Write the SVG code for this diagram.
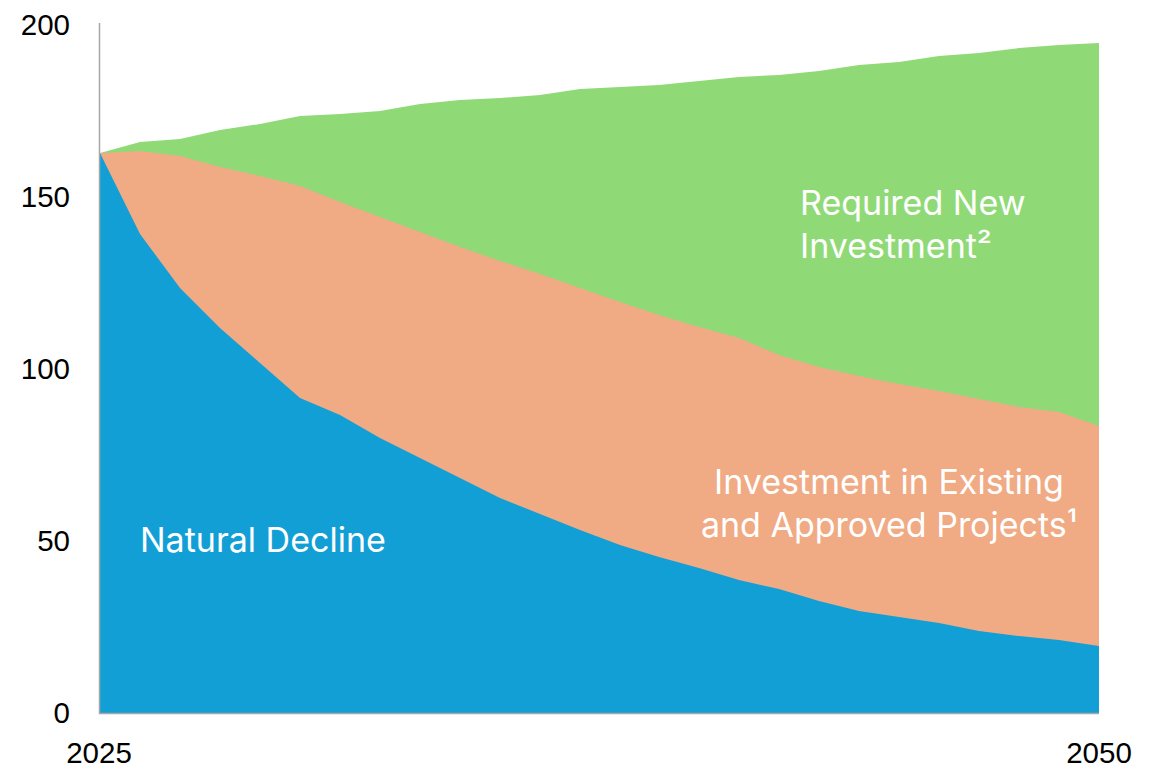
<svg xmlns="http://www.w3.org/2000/svg" width="1162" height="769" viewBox="0 0 1162 769">
<style>
.tick{font-family:"Liberation Sans",Arial,sans-serif;font-size:29.5px;fill:#000}
.lbl{font-family:Inter,"Open Sans",sans-serif;font-size:34px;fill:#fff}
.axis{stroke:#a6a6a6;stroke-width:1.5;fill:none}
</style>
<rect width="1162" height="769" fill="#fff"/>
<g id="areas">
<path id="required-new" fill="#8fda76" d="M100,153 L140,142 L180,139 L220,130 L260,124 L300,116 L340,114 L380,111 L420,104 L460,100 L500,98 L540,95 L580,89 L620,87 L659,85 L699,81 L739,77 L779,75 L819,71 L859,65 L899,62 L939,56 L979,53 L1019,48 L1059,45 L1099,43 L1099,713 L100,713 Z"/>
<path id="existing" fill="#f0aa84" d="M100,153 L140,151 L180,156 L220,167 L260,176 L300,186 L340,202 L380,217 L420,232 L460,247 L500,261 L540,274 L580,288 L620,302 L659,315 L699,327 L739,338 L779,355 L819,367 L859,376 L899,384 L939,391 L979,399 L1019,407 L1059,412 L1099,426 L1099,713 L100,713 Z"/>
<path id="natural-decline" fill="#129fd6" d="M100,153 L140,234 L180,288 L220,328 L260,363 L300,398 L340,415 L380,438 L420,458 L460,478 L500,498 L540,514 L580,530 L620,545 L659,557 L699,568 L739,580 L779,589 L819,601 L859,611 L899,617 L939,623 L979,631 L1019,636 L1059,640 L1099,646 L1099,713 L100,713 Z"/>
</g>
<g id="axes">
<line class="axis" x1="99.5" y1="23" x2="99.5" y2="714"/>
<line class="axis" x1="99" y1="713.5" x2="1099" y2="713.5"/>
</g>
<g id="y-ticks" class="tick" text-anchor="end">
<text x="70" y="35">200</text>
<text x="70" y="207">150</text>
<text x="70" y="379">100</text>
<text x="70" y="551">50</text>
<text x="70" y="723">0</text>
</g>
<g id="x-ticks" class="tick" text-anchor="middle">
<text x="99" y="763">2025</text>
<text x="1099" y="763">2050</text>
</g>
<g id="labels" class="lbl">
<text x="140" y="552">Natural Decline</text>
<text x="800" y="215">Required New</text>
<text x="800" y="258">Investment²</text>
<text x="889" y="494" text-anchor="middle">Investment in Existing</text>
<text x="889" y="537" text-anchor="middle">and Approved Projects¹</text>
</g>
</svg>
